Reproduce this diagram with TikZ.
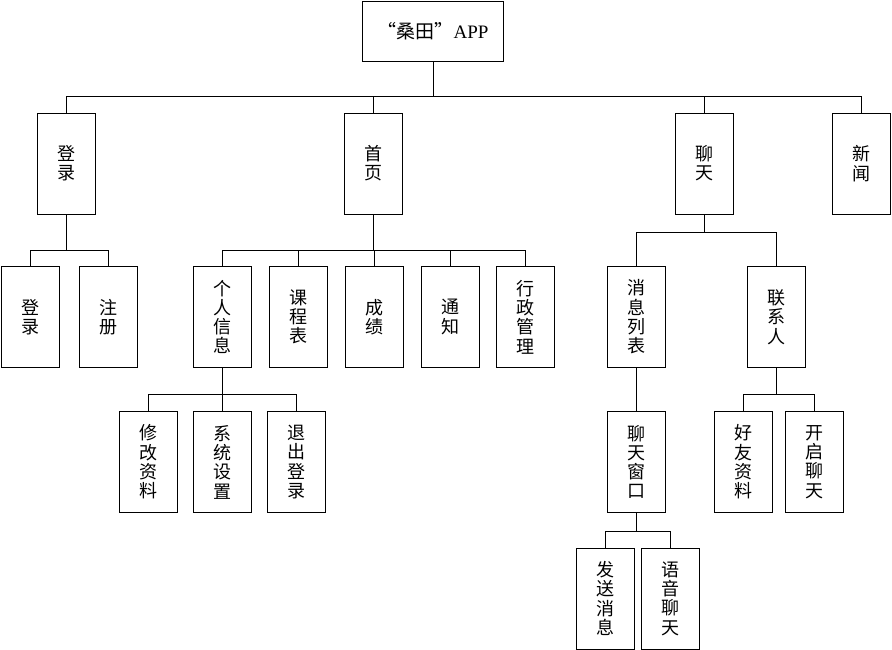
\documentclass[tikz,border=0pt]{standalone}
\usepackage{fontspec}
\setmainfont{Liberation Serif}
\newfontfamily\cjk{Noto Sans CJK SC}
\begin{document}
\begin{tikzpicture}[x=1pt,y=-1pt,
  box/.style={draw, line width=0.9pt, minimum width=58pt, minimum height=101pt,
    inner sep=0pt, align=center, font=\cjk\fontsize{18}{19.3}\selectfont},
  rootbox/.style={draw, line width=0.9pt, minimum width=141pt, minimum height=60pt,
    inner sep=0pt, font=\fontsize{19}{22}\selectfont},
  conn/.style={line width=0.8pt}]
\useasboundingbox (0,0) rectangle (892,650);
% root
\node[rootbox] (root) at (433,31) {{\cjk “桑田”}APP};
% level 1
\node[box] (dl1) at (66,163.5) {登\\录};
\node[box] (sy) at (373.5,163.5) {首\\页};
\node[box] (lt) at (704,163.5) {聊\\天};
\node[box] (xw) at (861.5,163.5) {新\\闻};
% level 2
\node[box] (dl2) at (30,317) {登\\录};
\node[box] (zc) at (108,317) {注\\册};
\node[box] (gr) at (222,317) {个\\人\\信\\息};
\node[box] (kc) at (298,317) {课\\程\\表};
\node[box] (cj) at (374,317) {成\\绩};
\node[box] (tz) at (450,317) {通\\知};
\node[box] (xz) at (525.5,317) {行\\政\\管\\理};
\node[box] (xx) at (636.5,317) {消\\息\\列\\表};
\node[box] (lx) at (776.7,317) {联\\系\\人};
% level 3
\node[box] (xg) at (148,462) {修\\改\\资\\料};
\node[box] (xt) at (222,462) {系\\统\\设\\置};
\node[box] (tc) at (296,462) {退\\出\\登\\录};
\node[box] (ck) at (636.5,462) {聊\\天\\窗\\口};
\node[box] (hy) at (743.3,462) {好\\友\\资\\料};
\node[box] (kq) at (814.5,462) {开\\启\\聊\\天};
% level 4
\node[box] (fs) at (605,598.5) {发\\送\\消\\息};
\node[box] (yy) at (670.5,598.5) {语\\音\\聊\\天};
% bus coordinates
\coordinate (b0) at (0,96);
\coordinate (b1) at (0,250);
\coordinate (b2) at (0,250);
\coordinate (b3) at (0,232);
\coordinate (b4) at (0,394);
\coordinate (b5) at (0,394);
\coordinate (b6) at (0,531);
% root connectors
\draw[conn] (root.south) -- (root.south |- b0);
\draw[conn] (dl1.north) |- (xw.north |- b0) -- (xw.north);
\draw[conn] (sy.north) -- (sy.north |- b0);
\draw[conn] (lt.north) -- (lt.north |- b0);
% denglu
\draw[conn] (dl1.south) -- (dl1.south |- b1);
\draw[conn] (dl2.north) |- (zc.north |- b1) -- (zc.north);
% shouye
\draw[conn] (sy.south) -- (sy.south |- b2);
\draw[conn] (gr.north) |- (xz.north |- b2) -- (xz.north);
\draw[conn] (kc.north) -- (kc.north |- b2);
\draw[conn] (cj.north) -- (cj.north |- b2);
\draw[conn] (tz.north) -- (tz.north |- b2);
% geren
\draw[conn] (gr.south) -- (gr.south |- b4);
\draw[conn] (xg.north) |- (tc.north |- b4) -- (tc.north);
\draw[conn] (xt.north) -- (xt.north |- b4);
% liaotian
\draw[conn] (lt.south) -- (lt.south |- b3);
\draw[conn] (xx.north) |- (lx.north |- b3) -- (lx.north);
\draw[conn] (xx.south) -- (ck.north);
% lianxi
\draw[conn] (lx.south) -- (lx.south |- b5);
\draw[conn] (hy.north) |- (kq.north |- b5) -- (kq.north);
% chuangkou
\draw[conn] (ck.south) -- (ck.south |- b6);
\draw[conn] (fs.north) |- (yy.north |- b6) -- (yy.north);
\end{tikzpicture}
\end{document}
